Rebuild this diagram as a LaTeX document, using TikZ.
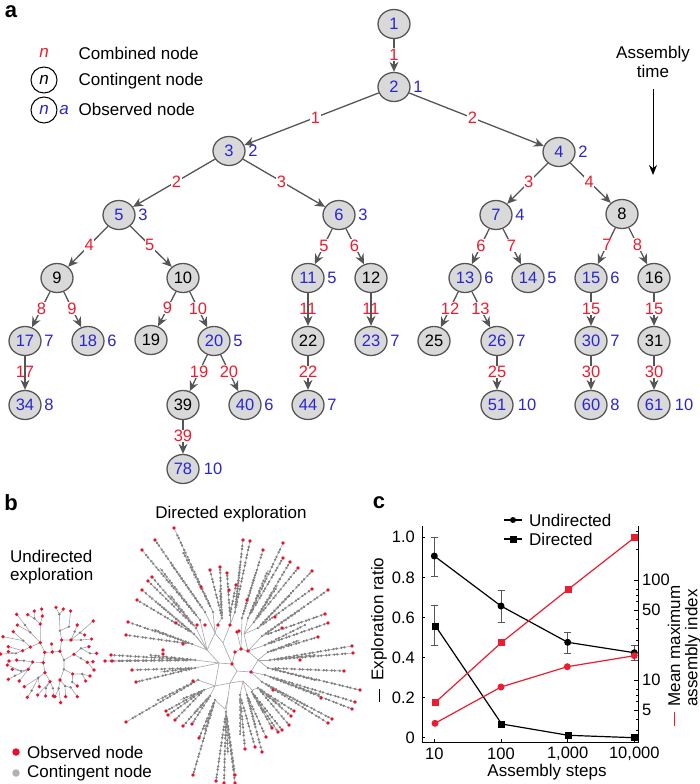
\documentclass[tikz,border=0pt]{standalone}
\usepackage{fontspec}
\setmainfont{Liberation Sans}
\usetikzlibrary{arrows.meta, calc, shapes.geometric}
\definecolor{combred}{HTML}{ED1C2E}
\definecolor{obsblue}{HTML}{2A26CF}
\definecolor{edgegray}{HTML}{555555}
\definecolor{nodegray}{HTML}{D9D9D9}
\definecolor{dotgray}{HTML}{7F7F7F}
\definecolor{dotred}{HTML}{E8112D}
\newcommand{\txtsize}{\fontsize{17}{20}\selectfont}
\newcommand{\numsize}{\fontsize{16.5}{18}\selectfont}
% one bundle of branches: junction, hub, red tips, tips that stay grey
\newcommand{\spokes}[4]{\coordinate (hub) at #2;
  \draw[branch] #1 -- (hub);
  \fill[dotgray] (hub) circle (1.3);
  \foreach \tip in {#3} {
    \path \tip coordinate (tp);
    \draw[branch] (hub) -- (tp);
    \draw[beads] ($(hub)!0.1!(tp)$) -- ($(hub)!0.96!(tp)$);
    \fill[dotred] (tp) circle (1.9);}
  \foreach \tip in {#4} {
    \path \tip coordinate (tp);
    \draw[branch] (hub) -- (tp);
    \draw[beads] ($(hub)!0.1!(tp)$) -- (tp);}}
\tikzset{
  treenode/.style={draw=edgegray, fill=nodegray, line width=1.3pt, ellipse, inner sep=0pt,
    minimum width=32, minimum height=29, font=\numsize},
  obsnode/.style={treenode, text=obsblue},
  contnode/.style={treenode, text=black},
  idxlabel/.style={text=obsblue, font=\numsize, anchor=west, inner sep=0pt},
  comblabel/.style={text=combred, font=\numsize, fill=white, inner sep=0.6pt, pos=0.47},
  combover/.style={comblabel, fill=none},
  treeedge/.style={draw=edgegray, line width=1.3pt, -{Stealth[length=10pt,width=9pt]}},
  keytext/.style={font=\txtsize, anchor=west, inner sep=0pt},
  panel/.style={font=\fontsize{22}{24}\selectfont\bfseries, inner sep=0pt},
  branch/.style={draw=dotgray!70, line width=0.6pt},
  beads/.style={draw=dotgray, line width=2.7pt, line cap=round,
    dash pattern=on 0.01pt off 3pt on 0.01pt off 5pt},
  ticklabel/.style={font=\numsize, inner sep=0pt},
  axisline/.style={black, line width=1pt},
  dataline/.style={line width=1.2pt},
  errbar/.style={edgegray, line width=0.7pt},
}
\begin{document}
\begin{tikzpicture}[x=1pt, y=-1pt]
  \useasboundingbox (0,0) rectangle (700,784);

  % panel a
  \node[panel] (pa) at (11,12) {a};
  \node[text=combred, font=\txtsize\itshape, inner sep=0pt] (keyc) at (44,53) {n};
  \node[draw, circle, line width=1pt, minimum size=26, inner sep=0pt, font=\txtsize\itshape] (keyk) at (44,80) {n};
  \node[draw, circle, line width=1pt, minimum size=26, inner sep=0pt, font=\txtsize\itshape, text=obsblue] (keyo) at (44,110) {n};
  \node[text=obsblue, font=\txtsize\itshape, inner sep=0pt] (keya) at (64,110) {a};
  \node[keytext] (keyct) at (78.5,53) {Combined node};
  \node[keytext] (keykt) at (78.5,81) {Contingent node};
  \node[keytext] (keyot) at (78.5,109) {Observed node};
  \node[font=\txtsize, align=center, inner sep=0pt] (asstime) at (653,62) {Assembly\\[-1pt]time};
  \coordinate (timetop) at (653,89);
  \coordinate (timeend) at (653,175);
  \draw[line width=1pt, -{Stealth[length=10pt,width=8pt]}] (timetop) -- (timeend);

  % observed nodes: name/x/y/index
  \foreach \n/\x/\y/\a in {2/394/87/1, 3/229/151/2, 4/559/152/2, 5/119/215/3, 6/339/215/3,
      7/496/215/4, 11/308/278/5, 13/465/278/6, 14/528/278/5, 15/591/278/6,
      17/25/341/7, 18/88/341/6, 20/214/341/5, 23/371/341/7, 26/497/341/7, 30/591/341/7,
      34/25/405/8, 40/245/405/6, 44/308/405/7, 60/591/405/8} {
    \node[obsnode] (n\n) at (\x,\y) {\n};
    \node[idxlabel] (a\n) at ($(n\n.east)+(2.5,0)$) {\a};
  }
  \foreach \n/\x/\y/\a in {51/497/405/10, 61/654/405/10, 78/183/469/10} {
    \node[obsnode] (n\n) at (\x,\y) {\n};
    \node[idxlabel] (a\n) at ($(n\n.east)+(4,0)$) {\a};
  }
  \node[obsnode] (n1) at (394,24) {1};
  % contingent nodes
  \foreach \n/\x/\y in {8/622/214, 9/57/278, 10/183/278, 12/371/278, 16/654/278,
      19/151/340, 22/308/341, 25/434/341, 31/654/341, 39/183/405} {
    \node[contnode] (n\n) at (\x,\y) {\n};
  }
  % edges: from/to/combined node
  \foreach \p/\q/\c in {1/2/1, 2/3/1, 2/4/2, 3/5/2, 3/6/3, 4/7/3, 4/8/4, 5/9/4, 5/10/5,
      6/11/5, 6/12/6, 7/13/6, 7/14/7, 8/15/7, 8/16/8, 9/17/8, 9/18/9, 10/19/9, 10/20/10,
      13/25/12, 13/26/13, 15/30/15, 16/31/15, 20/39/19, 20/40/20, 22/44/22, 26/51/25,
      30/60/30, 31/61/30, 39/78/39} {
    \draw[treeedge] (n\p) -- node[comblabel] {\c} (n\q);
  }
  \foreach \p/\q/\c in {11/22/11, 12/23/11, 17/34/17} {
    \draw[treeedge] (n\p) -- node[combover] {\c} (n\q);
  }

  % panel b
  \node[panel] (pb) at (11,503) {b};
  \node[font=\txtsize, inner sep=0pt] (dirtitle) at (231,514) {Directed exploration};
  \node[keytext] (undtitle) at (10,556) {Undirected};
  \node[keytext] (undtitleb) at (10,576) {exploration};
  \node[fill=dotred, circle, minimum size=7.5, inner sep=0pt] (keyobs) at (16,752) {};
  \node[keytext] (keyobst) at (27,752) {Observed node};
  \node[fill=black!30, circle, minimum size=7.5, inner sep=0pt] (keycon) at (16,773) {};
  \node[keytext] (keycont) at (27,773) {Contingent node};

  % undirected tree
  \begin{scope}[shift={(0,600)}, x=0.3333pt, y=-0.3333pt]
    \draw[branch]
      (121,128) -- (134,157) -- (157,156) -- (180,154) -- (192,180) -- (192,208) -- (180,240)
      (134,157) -- (130,188) -- (135,218) (155,132) -- (157,156)
      (121,128) -- (121,72) -- (127,48) -- (125,27) (121,72) -- (103,55) -- (103,33) (103,55) -- (83,44)
      (121,128) -- (91,97) -- (75,75) -- (50,43) (91,97) -- (52,75)
      (121,128) -- (91,141) -- (70,122) -- (40,95) (70,122) -- (9,110)
      (91,141) -- (68,152) -- (25,140) (68,152) -- (48,160) -- (2,162) (48,160) -- (25,155)
      (130,188) -- (98,186) -- (72,182) -- (50,180) (72,182) -- (27,183)
      (98,186) -- (85,208) -- (63,213) -- (37,208) (63,213) -- (22,195)
      (85,208) -- (45,227) -- (25,238) (85,208) -- (58,243)
      (135,218) -- (115,233) -- (73,260) (115,233) -- (118,260) (115,233) -- (95,272) -- (82,292)
      (135,218) -- (150,245) -- (138,265) -- (137,288) (150,245) -- (159,265) -- (160,288) (150,245) -- (113,285)
      (180,240) -- (176,265) -- (182,308) (176,265) -- (165,290)
      (180,240) -- (195,258) -- (197,290) (195,258) -- (212,262) -- (232,290)
      (192,208) -- (218,222) -- (247,222) -- (270,228) (247,222) -- (257,243)
      (218,222) -- (217,246) -- (232,258)
      (192,180) -- (222,163) -- (243,175) -- (262,187) -- (282,210) (262,187) -- (279,185)
      (222,163) -- (243,145) -- (267,140) (243,145) -- (270,160) -- (290,160)
      (180,154) -- (185,120) -- (213,120) -- (240,98) -- (280,63) (240,98) -- (254,105)
      (213,120) -- (224,95) -- (232,75) (213,120) -- (243,120) -- (275,117)
      (185,120) -- (180,92) -- (207,80) -- (212,33) (180,92) -- (178,43) -- (168,22) (178,43) -- (190,27);
    \foreach \p in {(103,55),(75,75),(91,97),(70,122),(48,160),(72,182),(63,213),(45,227),
        (115,233),(95,272),(138,265),(159,265),(176,265),(195,258),(212,262),(217,246),(247,222),
        (243,175),(270,160),(243,145),(240,98),(224,95),(243,120),(207,80),(178,43),(192,180),(192,208),(180,92)}
      \fill[dotgray] \p circle (4);
    \foreach \p in {(121,128),(134,157),(157,156),(180,154),(130,188),(135,218),(155,132),(121,72),(127,48),(103,33),(83,44),
        (125,27),(91,141),(68,152),(50,43),(52,75),(40,95),(9,110),(25,140),(2,162),(25,155),(98,186),(50,180),(27,183),
        (85,208),(37,208),(22,195),(25,238),(58,243),(73,260),(118,260),(82,292),(150,245),(137,288),(160,288),(113,285),
        (182,308),(165,290),(180,240),(197,290),(232,290),(218,222),(270,228),(257,243),(232,258),(262,187),(282,210),(279,185),
        (222,163),(267,140),(290,160),(185,120),(213,120),(280,63),(254,105),(232,75),(275,117),(212,33),(168,22),(190,27)}
      \fill[dotred] \p circle (5.5);
  \end{scope}

  % directed tree: skeleton first
  \draw[branch]
    (232,664) -- (219,663) -- (207,650) -- (215,633) -- (223,643) -- (232,664)
    (223,643) -- (230,625) (215,633) -- (218,624) (207,650) -- (196,636)
    (232,664) -- (237,671) -- (251,672) -- (258,660) -- (248,651) -- (241,649) -- (235,652) -- (232,664)
    (237,671) -- (230,683) -- (243,681) -- (252,690) (230,683) -- (215,686) -- (219,663)
    (230,683) -- (228,697) -- (225,709) (248,651) -- (244,634) (237,632) -- (241,649);
  \spokes{(215,633)}{(213,612)}{(174,528)}{(183,552)}
  \spokes{(215,633)}{(205,612)}{(155,540)}{(172,565)}
  \spokes{(207,650)}{(200,620)}{(142,550)}{(160,568)}
  \spokes{(207,650)}{(196,628)}{(152,577),(148,581)}{(170,595)}
  \spokes{(207,650)}{(194,634)}{(142,590),(137,600)}{(160,605)}
  \spokes{(207,650)}{(192,644)}{(128,622),(126,635)}{(155,630)}
  \spokes{(219,663)}{(195,660)}{(111,655),(105,661),(112,661)}{(150,655)}
  \spokes{(219,663)}{(195,668)}{(132,670),(136,682)}{(160,672)}
  \spokes{(215,686)}{(198,680)}{(126,722)}{(158,700)}
  \spokes{(215,686)}{(204,690)}{(166,711),(168,715),(175,720)}{(180,700)}
  \spokes{(215,686)}{(210,696)}{(183,726),(192,724)}{(195,712)}
  \spokes{(225,709)}{(215,700)}{(199,738),(193,775)}{(205,730)}
  \spokes{(228,697)}{(226,712)}{(216,781),(224,783),(235,783),(235,775)}{(228,755)}
  \spokes{(243,681)}{(240,695)}{(245,749),(255,747)}{(240,735)}
  \spokes{(243,681)}{(247,695)}{(262,752),(266,737)}{(255,725)}
  \spokes{(252,690)}{(252,692)}{(272,728),(278,732),(282,730)}{(265,715)}
  \spokes{(252,690)}{(258,688)}{(289,725),(291,716),(294,711)}{(280,705)}
  \spokes{(251,672)}{(262,682)}{(328,723),(332,719)}{(305,705)}
  \spokes{(251,672)}{(265,675)}{(352,709),(355,702)}{(320,695)}
  \spokes{(258,660)}{(268,668)}{(360,690),(344,671)}{(315,680)}
  \spokes{(258,660)}{(270,660)}{(353,653),(352,646)}{(315,655)}
  \spokes{(258,660)}{(268,652)}{(318,637)}{(300,640)}
  \spokes{(248,651)}{(265,645)}{(328,623)}{(305,625)}
  \spokes{(248,651)}{(262,636)}{(325,614),(328,590)}{(300,610)}
  \spokes{(244,634)}{(258,628)}{(312,589),(312,571)}{(290,595)}
  \spokes{(244,634)}{(254,622)}{(298,568),(290,562)}{(278,585)}
  \spokes{(244,634)}{(248,618)}{(283,558),(283,543)}{(268,570)}
  \spokes{(241,649)}{(242,618)}{(263,550)}{(255,575)}
  \spokes{(230,625)}{(235,612)}{(250,541),(243,540)}{(240,565)}
  \spokes{(230,625)}{(230,615)}{(227,573),(236,585)}{}
  \spokes{(218,624)}{(222,618)}{(220,567),(210,570)}{(220,590)}
  \foreach \p in {(237,632),(235,652),(241,649),(248,651),(251,672),(232,664),(201,587),(176,623),(183,644),(163,650),(163,654),
      (197,625),(205,625),(230,625),(239,631),(218,625),(247,600),(275,617),(282,628),(300,660),(273,690),(321,698),(193,681),(229,590)}
    \fill[dotred] \p circle (1.9);

  % panel c
  \node[panel] (pc) at (379,503) {c};
  \draw[axisline] (422,526) -- (422,742) -- (638,742) -- (638,526);
  \foreach \y/\t in {537.3/1.0, 577.4/0.8, 617.6/0.6, 657.7/0.4, 697.8/0.2, 737.8/0} {
    \draw[axisline] (422,\y) -- (425,\y);
    \node[ticklabel, anchor=east] at (415,\y) {\t};
  }
  \foreach \x/\t in {434.3/10, 501/100, 567.7/{1,000}, 634.3/{10,000}} {
    \draw[axisline] (\x,742) -- (\x,739);
    \node[ticklabel] at (\x,754) {\t};
  }
  \foreach \y/\t in {580/100, 610/50, 680/10, 710/5} {
    \draw[axisline] (638,\y) -- (634,\y);
    \node[ticklabel, anchor=west] at (642,\y) {\t};
  }
  \foreach \y in {531,549,589,595,601,619,628,640,689,695,701,719,730}
    \draw[axisline, line width=0.6pt] (638,\y) -- (636,\y);
  \node[font=\txtsize, inner sep=0pt] (xtitle) at (547,772) {Assembly steps};
  \node[font=\txtsize, inner sep=0pt, rotate=90] (ytitle) at (379,619) {Exploration ratio};
  \node[font=\txtsize, inner sep=0pt, rotate=90] (ztitle) at (674,646) {Mean maximum};
  \node[font=\txtsize, inner sep=0pt, rotate=90] (ztitleb) at (693,648) {assembly index};
  \draw[black, line width=1pt] (379,689) -- (379,702);
  \draw[combred, line width=1pt] (674,712) -- (674,726);

  % error bars
  \foreach \x/\a/\b in {434.3/537.3/576, 434.3/605.7/645, 501/590.3/622.3, 567.7/632.3/653, 634.3/645/660} {
    \draw[errbar] (\x,\a) -- (\x,\b);
    \draw[errbar] (\x-3.5,\a) -- (\x+3.5,\a);
    \draw[errbar] (\x-3.5,\b) -- (\x+3.5,\b);
  }
  % data
  \draw[dataline, black] (434.3,556) -- (501,606) -- (567.7,642.3) -- (634.3,652.7);
  \draw[dataline, black] (435.7,626.3) -- (501.7,724) -- (568.3,735.3) -- (634.3,737.7);
  \draw[dataline, combred] (435.7,702) -- (501.7,642.3) -- (568.3,589.3) -- (634.3,537.7);
  \draw[dataline, combred] (435,723.3) -- (501,687) -- (567.3,666.7) -- (634.3,655.7);
  \foreach \x/\y in {434.3/556, 501/606, 567.7/642.3, 634.3/652.7}
    \fill[black] (\x,\y) circle (3.5);
  \foreach \x/\y in {435.7/626.3, 501.7/724, 568.3/735.3, 634.3/737.7}
    \fill[black] (\x-3.5,\y-3.5) rectangle (\x+3.5,\y+3.5);
  \foreach \x/\y in {435.7/702, 501.7/642.3, 568.3/589.3, 634.3/537.7}
    \fill[combred] (\x-3.5,\y-3.5) rectangle (\x+3.5,\y+3.5);
  \foreach \x/\y in {435/723.3, 501/687, 567.3/666.7, 634.3/655.7}
    \fill[combred] (\x,\y) circle (3.5);

  % key of panel c
  \draw[dataline, black] (504.3,520) -- (521.7,520);
  \fill[black] (513,520) circle (3);
  \draw[dataline, black] (504.3,539) -- (521.7,539);
  \fill[black] (510,535.5) rectangle (517,542.5);
  \node[keytext] (keyund) at (529,520) {Undirected};
  \node[keytext] (keydir) at (529,539) {Directed};
\end{tikzpicture}
\end{document}
